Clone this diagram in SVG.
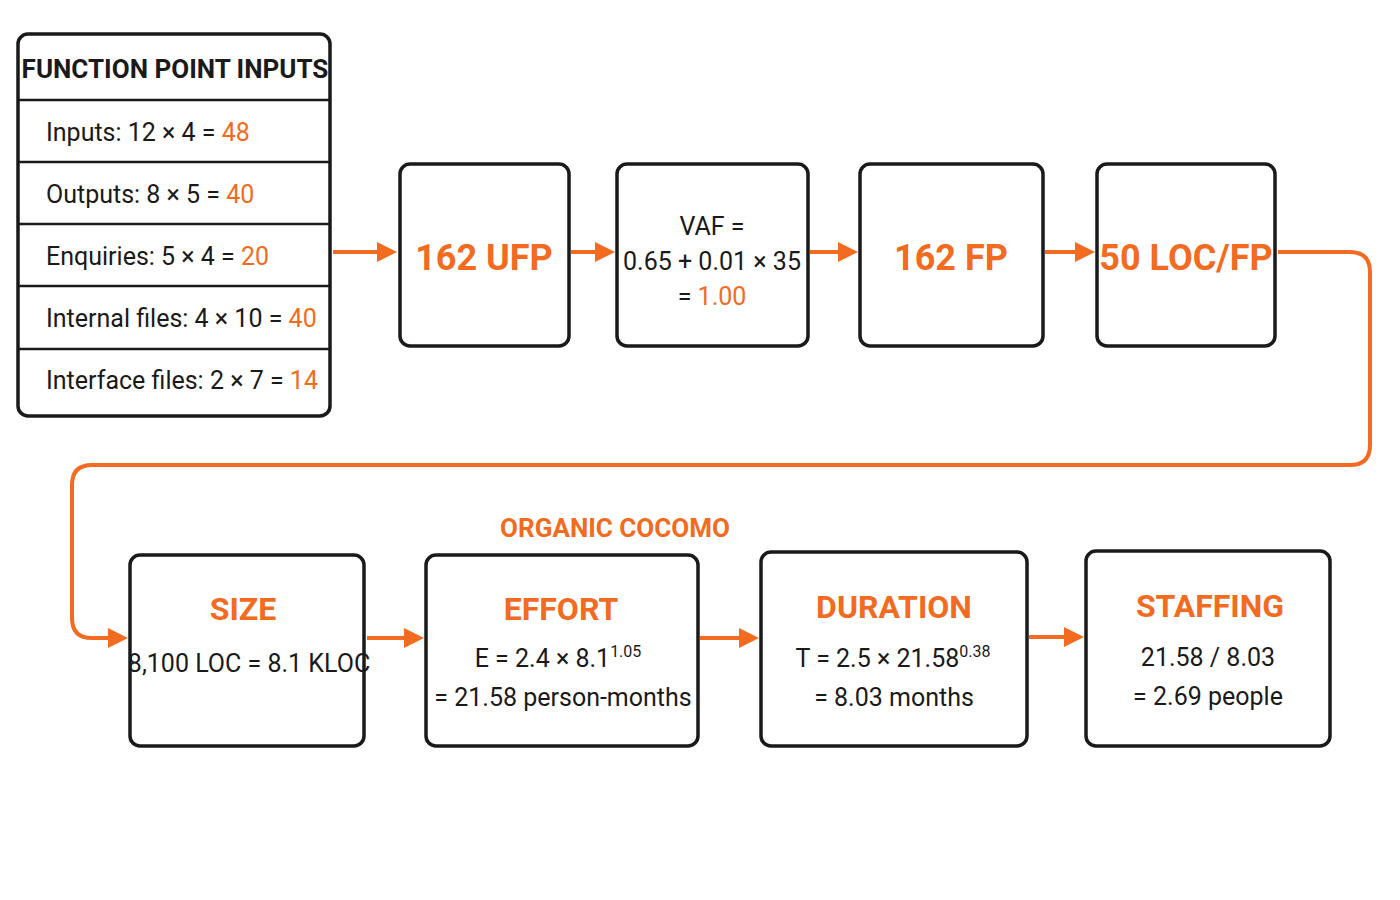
<svg xmlns="http://www.w3.org/2000/svg" width="1400" height="900" viewBox="0 0 1400 900">
<defs>
<style>
.box{fill:#fff;stroke:#1a1a1a;stroke-width:3.5}
.ln{stroke:#1a1a1a;stroke-width:2.5}
text{font-family:Roboto,"Liberation Sans",sans-serif;fill:#1a1a1a}
.o{fill:#F26B21}
.t{font-size:25px}
.big{font-size:36px;font-weight:bold;fill:#F26B21}
.ttl{font-size:32px;font-weight:bold;fill:#F26B21}
.c{stroke:#F26B21;stroke-width:4;fill:none}
</style>
<marker id="ah" viewBox="0 0 10 10" refX="8" refY="5" markerWidth="5" markerHeight="5" orient="auto" markerUnits="strokeWidth"><path d="M0,0L10,5L0,10z" fill="#F26B21"/></marker>
</defs>
<rect width="1400" height="900" fill="#fff"/>
<g id="inputs">
<rect class="box" x="18" y="34" width="312" height="382" rx="10"/>
<line class="ln" x1="18" y1="100" x2="330" y2="100"/>
<line class="ln" x1="18" y1="162" x2="330" y2="162"/>
<line class="ln" x1="18" y1="224" x2="330" y2="224"/>
<line class="ln" x1="18" y1="286" x2="330" y2="286"/>
<line class="ln" x1="18" y1="349" x2="330" y2="349"/>
<text x="175" y="78" text-anchor="middle" font-size="26" font-weight="bold">FUNCTION POINT INPUTS</text>
<text class="t" x="46" y="141">Inputs: 12 × 4 = <tspan class="o">48</tspan></text>
<text class="t" x="46" y="203">Outputs: 8 × 5 = <tspan class="o">40</tspan></text>
<text class="t" x="46" y="265">Enquiries: 5 × 4 = <tspan class="o">20</tspan></text>
<text class="t" x="46" y="327">Internal files: 4 × 10 = <tspan class="o">40</tspan></text>
<text class="t" x="46" y="389">Interface files: 2 × 7 = <tspan class="o">14</tspan></text>
</g>
<g id="ufp"><rect class="box" x="400" y="164" width="169" height="182" rx="10"/><text class="big" x="484" y="270" text-anchor="middle">162 UFP</text></g>
<g id="vaf"><rect class="box" x="617" y="164" width="191" height="182" rx="10"/>
<text class="t" x="712" y="235" text-anchor="middle">VAF =</text>
<text class="t" x="712" y="270" text-anchor="middle">0.65 + 0.01 × 35</text>
<text class="t" x="712" y="305" text-anchor="middle">= <tspan class="o">1.00</tspan></text></g>
<g id="fp"><rect class="box" x="860" y="164" width="183" height="182" rx="10"/><text class="big" x="951" y="270" text-anchor="middle">162 FP</text></g>
<g id="locfp"><rect class="box" x="1097" y="164" width="178" height="182" rx="10"/><text class="big" x="1186" y="270" text-anchor="middle" font-size="33">50 LOC/FP</text></g>
<text x="615" y="537" text-anchor="middle" font-size="26" font-weight="bold" class="o">ORGANIC COCOMO</text>
<g id="size"><rect class="box" x="130" y="555" width="234" height="191" rx="10"/>
<text class="ttl" x="243" y="620" text-anchor="middle">SIZE</text>
<text class="t" x="249" y="672" text-anchor="middle">8,100 LOC = 8.1 KLOC</text></g>
<g id="effort"><rect class="box" x="426" y="555" width="272" height="191" rx="10"/>
<text class="ttl" x="561" y="620" text-anchor="middle">EFFORT</text>
<text class="t" x="558" y="667" text-anchor="middle">E = 2.4 × 8.1<tspan font-size="16" dy="-10">1.05</tspan></text>
<text class="t" x="563" y="706" text-anchor="middle">= 21.58 person-months</text></g>
<g id="duration"><rect class="box" x="761" y="552" width="266" height="194" rx="10"/>
<text class="ttl" x="894" y="618" text-anchor="middle">DURATION</text>
<text class="t" x="893" y="667" text-anchor="middle">T = 2.5 × 21.58<tspan font-size="16" dy="-10">0.38</tspan></text>
<text class="t" x="894" y="706" text-anchor="middle">= 8.03 months</text></g>
<g id="staffing"><rect class="box" x="1086" y="551" width="244" height="195" rx="10"/>
<text class="ttl" x="1210" y="617" text-anchor="middle">STAFFING</text>
<text class="t" x="1208" y="666" text-anchor="middle">21.58 / 8.03</text>
<text class="t" x="1208" y="705" text-anchor="middle">= 2.69 people</text></g>
<g id="connectors">
<path class="c" d="M333,252H393" marker-end="url(#ah)"/>
<path class="c" d="M571,252H611" marker-end="url(#ah)"/>
<path class="c" d="M810,252H854" marker-end="url(#ah)"/>
<path class="c" d="M1045,252H1091" marker-end="url(#ah)"/>
<path class="c" d="M1278,252H1350Q1370,252 1370,272V445Q1370,465 1350,465H92Q72,465 72,485V618Q72,638 92,638H124" marker-end="url(#ah)"/>
<path class="c" d="M367,638H420" marker-end="url(#ah)"/>
<path class="c" d="M700,638H755" marker-end="url(#ah)"/>
<path class="c" d="M1029,637H1080" marker-end="url(#ah)"/>
</g>
</svg>
